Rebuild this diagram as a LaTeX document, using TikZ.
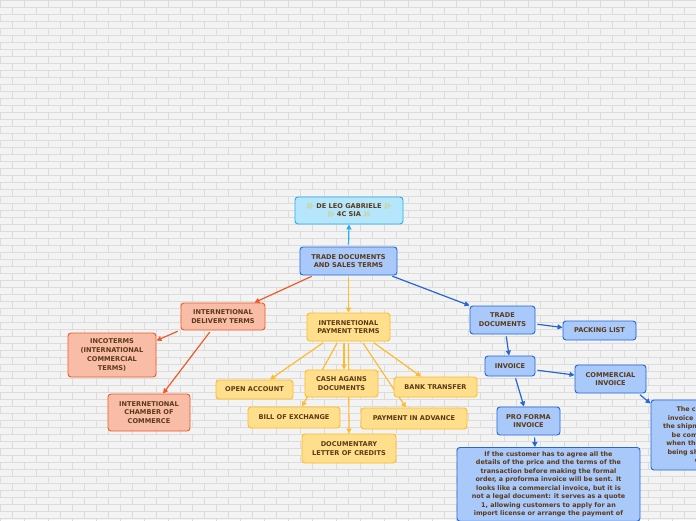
\documentclass[tikz,border=0pt]{standalone}
\usepackage{fontspec}
\setmainfont{DejaVu Sans}
\newfontfamily\emojifont{Noto Emoji}
\usepackage{xcolor}
\usetikzlibrary{arrows.meta,backgrounds}
\definecolor{BrickBg}{HTML}{F3F3F3}
\definecolor{BrickLine}{HTML}{DCDCDC}
\definecolor{InkBrown}{HTML}{5B3A17}
\definecolor{SkyFill}{HTML}{B6E6FB}
\definecolor{SkyLine}{HTML}{27AEE8}
\definecolor{DocFill}{HTML}{A9C9FB}
\definecolor{DocLine}{HTML}{2467D8}
\definecolor{DelFill}{HTML}{F9BCA7}
\definecolor{DelLine}{HTML}{F05A28}
\definecolor{PayFill}{HTML}{FFDF8C}
\definecolor{PayLine}{HTML}{FDBB2D}
\definecolor{Spark}{HTML}{E8B800}
\newcommand{\spk}{{\emojifont\color{Spark}\fontsize{6}{6}\selectfont ✨}}

\begin{document}
\begin{tikzpicture}[x=1pt,y=-1pt,>={Triangle[length=5pt,width=5pt]},
 topic/.style={rounded corners=3pt,line width=0.9pt,align=center,inner sep=2pt,
               font=\bfseries\fontsize{6.6}{8.8}\selectfont,text=InkBrown},
 sky/.style={topic,draw=SkyLine,fill=SkyFill},
 doc/.style={topic,draw=DocLine,fill=DocFill},
 del/.style={topic,draw=DelLine,fill=DelFill},
 pay/.style={topic,draw=PayLine,fill=PayFill},
 note/.style={font=\bfseries\fontsize{6.4}{8.5}\selectfont},
 link/.style={->,line width=1.2pt,shorten <=2pt}]
\path[use as bounding box] (0,0) rectangle (696,520);

% brick wall
\begin{pgfonlayer}{background}
\fill[BrickBg] (0,0) rectangle (696,520);
\foreach \r in {0,...,74}{
  \draw[BrickLine,line width=0.6pt] (0,\r*7) -- (696,\r*7);
  \pgfmathsetmacro{\off}{mod(\r,2)*12}
  \foreach \c in {0,...,29}
    \draw[BrickLine,line width=0.6pt] (\c*24+\off,\r*7) -- (\c*24+\off,\r*7+7);
}
\end{pgfonlayer}

\node[sky,minimum width=108pt,minimum height=27pt] (author) at (349,210.5)
  {\spk\ DE LEO GABRIELE \spk\\\spk\ 4C SIA \spk};
\node[doc,minimum width=97pt,minimum height=28pt] (trade) at (348.5,261) {TRADE DOCUMENTS\\AND SALES TERMS};

% delivery terms
\node[del,minimum width=84pt,minimum height=27pt] (deliv) at (223,316.5) {INTERNETIONAL\\DELIVERY TERMS};
\node[del,minimum width=88pt,minimum height=44pt] (inco) at (112,355) {INCOTERMS\\(INTERNATIONAL\\COMMERCIAL\\TERMS)};
\node[del,minimum width=82pt,minimum height=37pt] (icc) at (149,412.5) {INTERNETIONAL\\CHAMBER OF\\COMMERCE};

% payment terms
\node[pay,minimum width=83pt,minimum height=28pt] (paym) at (348.5,327) {INTERNETIONAL\\PAYMENT TERMS};
\node[pay,minimum width=77pt,minimum height=19pt] (open) at (254.5,389.5) {OPEN ACCOUNT};
\node[pay,minimum width=73pt,minimum height=27pt] (cash) at (341.5,383.5) {CASH AGAINS\\DOCUMENTS};
\node[pay,minimum width=83pt,minimum height=20pt] (bank) at (435.5,387) {BANK TRANSFER};
\node[pay,minimum width=92pt,minimum height=21pt] (bill) at (294,417.5) {BILL OF EXCHANGE};
\node[pay,minimum width=106pt,minimum height=21pt] (adv) at (414,418.5) {PAYMENT IN ADVANCE};
\node[pay,minimum width=94pt,minimum height=29pt] (letter) at (349,448.5) {DOCUMENTARY\\LETTER OF CREDITS};

% trade documents
\node[doc,minimum width=65pt,minimum height=28pt] (tdocs) at (502.5,320) {TRADE\\DOCUMENTS};
\node[doc,minimum width=73pt,minimum height=19pt] (pack) at (599.5,330.5) {PACKING LIST};
\node[doc,minimum width=50pt,minimum height=20pt] (inv) at (510,366) {INVOICE};
\node[doc,minimum width=71pt,minimum height=28pt] (comm) at (610.5,379) {COMMERCIAL\\INVOICE};
\node[doc,minimum width=63pt,minimum height=28pt] (pro) at (528.5,421) {PRO FORMA\\INVOICE};
\node[doc,note,minimum width=183pt,inner sep=4pt,anchor=north] (pronote) at (548.5,447)
  {If the customer has to agree all the\\details of the price and the terms of the\\
   transaction before making the formal\\order, a proforma invoice will be sent. It\\
   looks like a commercial invoice, but it is\\not a legal document: it serves as a quote\\
   1, allowing customers to apply for an\\import license or arrange the payment of};
\node[doc,note,minimum width=108pt,minimum height=70pt] (commnote) at (705,435)
  {The commercial\\invoice has to follow\\the shipment and must\\be completed only\\
   when the goods have\\being shipped to the\\client};

\begin{pgfonlayer}{background}
\draw[link,SkyLine] (trade.north) -- (author.south);
\draw[link,DelLine] ([xshift=14pt]trade.south west) -- ([xshift=-11pt]deliv.north east);
\draw[link,PayLine] (trade.south) -- (paym.north);
\draw[link,DocLine] ([xshift=-7pt]trade.south east) -- (tdocs.north west);
\draw[link,DelLine] ([xshift=-1pt]deliv.south west) -- ([yshift=-8pt]inco.north east);
\draw[link,DelLine] ([xshift=-12pt]deliv.south) -- ([xshift=14pt]icc.north);
\draw[link,PayLine] ([xshift=-23.5pt]paym.south) -- ([xshift=15.5pt]open.north);
\draw[link,PayLine] ([xshift=-10.5pt]paym.south) -- ([xshift=8pt]bill.north);
\draw[link,PayLine] ([xshift=-4.5pt]paym.south) -- ([xshift=2.5pt]cash.north);
\draw[link,PayLine] (paym.south) -- (letter.north);
\draw[link,PayLine] ([xshift=13.5pt]paym.south) -- ([xshift=-8pt]adv.north);
\draw[link,PayLine] ([xshift=23.5pt]paym.south) -- ([xshift=-14.5pt]bank.north);
\draw[link,DocLine] ([yshift=-4pt]tdocs.east) -- ([yshift=3pt]pack.west);
\draw[link,DocLine] ([xshift=3.5pt]tdocs.south) -- ([xshift=-1pt]inv.north);
\draw[link,DocLine] ([yshift=-4pt]inv.east) -- ([yshift=4pt]comm.west);
\draw[link,DocLine] ([xshift=5pt]inv.south) -- ([xshift=-4.5pt]pro.north);
\draw[link,DocLine] ([xshift=6pt]pro.south) -- ([xshift=-13.5pt]pronote.north);
\draw[link,DocLine] ([xshift=-8pt]comm.south east) -- ([yshift=-4pt]commnote.north west);
\end{pgfonlayer}
\end{tikzpicture}
\end{document}
